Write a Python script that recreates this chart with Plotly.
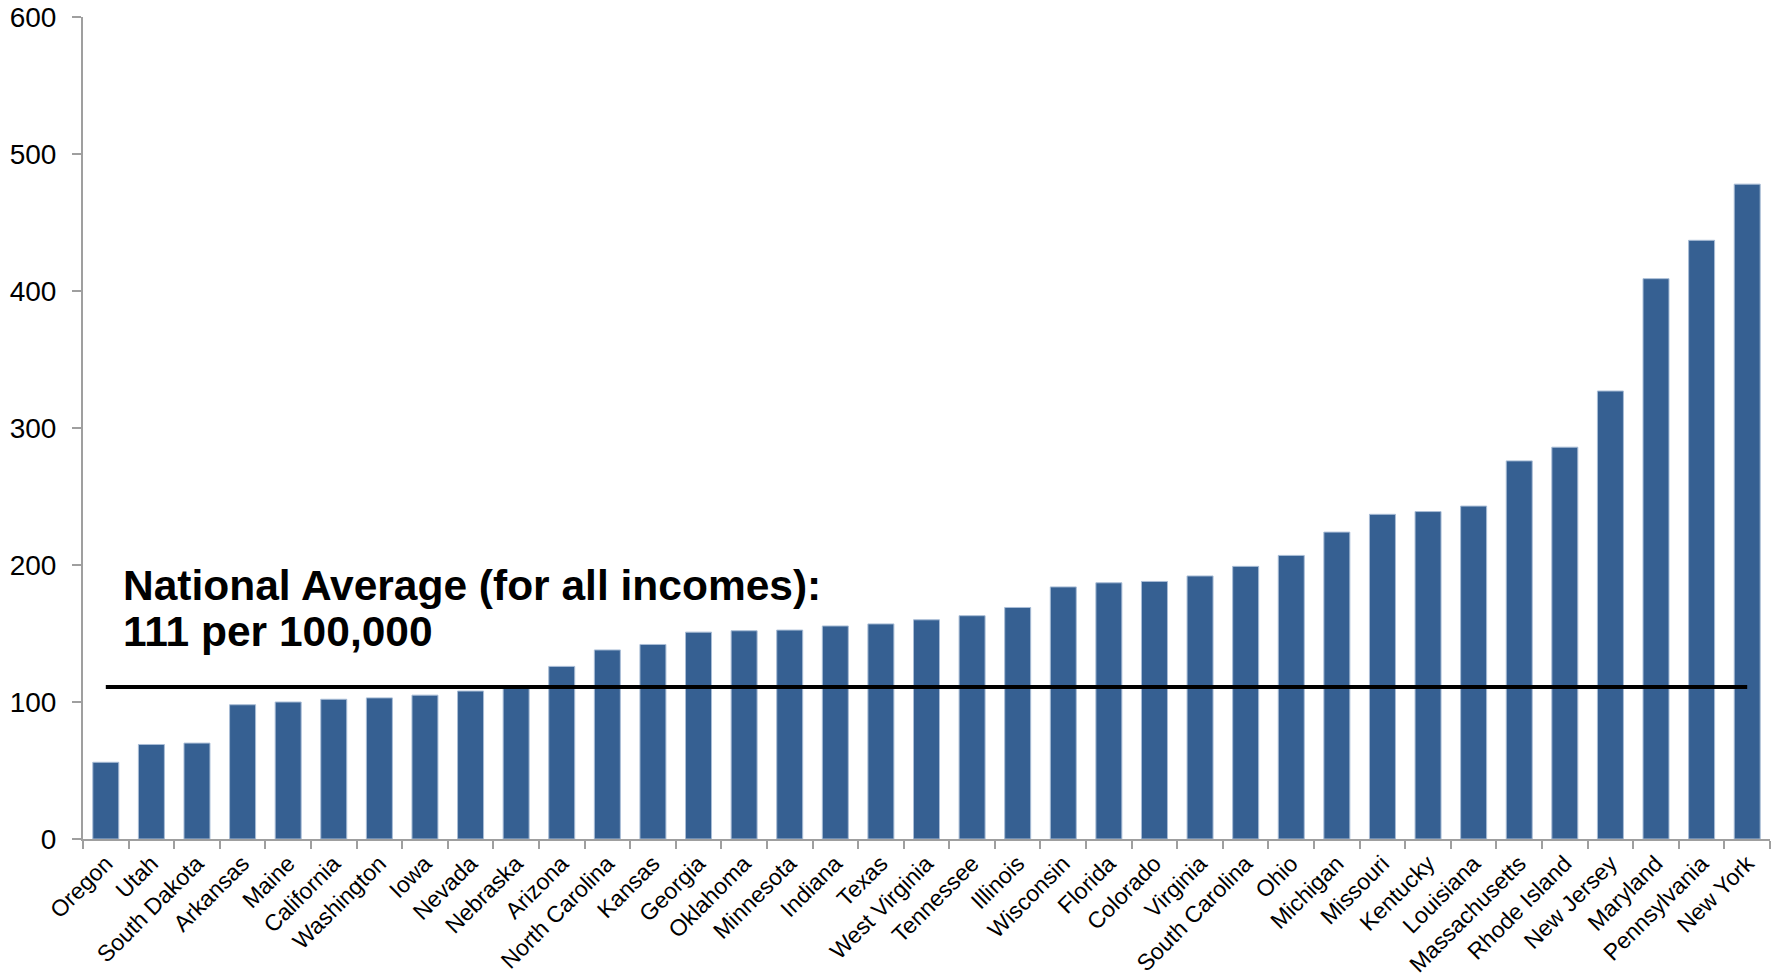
import plotly.graph_objects as go

states = ["Oregon", "Utah", "South Dakota", "Arkansas", "Maine", "California", "Washington",
          "Iowa", "Nevada", "Nebraska", "Arizona", "North Carolina", "Kansas", "Georgia",
          "Oklahoma", "Minnesota", "Indiana", "Texas", "West Virginia", "Tennessee", "Illinois",
          "Wisconsin", "Florida", "Colorado", "Virginia", "South Carolina", "Ohio", "Michigan",
          "Missouri", "Kentucky", "Louisiana", "Massachusetts", "Rhode Island", "New Jersey",
          "Maryland", "Pennsylvania", "New York"]
rates = [56, 69, 70, 98, 100, 102, 103, 105, 108, 111, 126, 138, 142, 151, 152, 152.5,
         155.5, 157, 160, 163, 169, 184, 187, 188, 192, 199, 207, 224, 237, 239, 243,
         276, 286, 327, 409, 437, 478]
national_average = 111
y_ticks = [0, 100, 200, 300, 400, 500, 600]
note_line1 = "National Average (for all incomes):"
note_line2 = "111 per 100,000"

FONT = "Liberation Sans, Arial, sans-serif"
AXIS_GRAY = "#9f9f9f"

fig = go.Figure()
fig.add_trace(go.Bar(
    x=states, y=rates,
    marker=dict(color="#366092", line=dict(color="#a9bdd6", width=1)),
    hoverinfo="x+y",
))
fig.add_trace(go.Scatter(
    x=[states[0], states[-1]], y=[national_average, national_average],
    mode="lines", line=dict(color="black", width=4), hoverinfo="skip",
))

fig.add_annotation(text=f"<b>{note_line1}</b>", xref="paper", yref="y",
                   x=0.0225, y=166.5, xanchor="left", yanchor="bottom", showarrow=False,
                   font=dict(family=FONT, size=42.5, color="black"))
fig.add_annotation(text=f"<b>{note_line2}</b>", xref="paper", yref="y",
                   x=0.0225, y=133, xanchor="left", yanchor="bottom", showarrow=False,
                   font=dict(family=FONT, size=42.5, color="black"))

fig.update_layout(
    width=1781, height=980,
    margin=dict(l=83, r=11, t=17, b=141),
    plot_bgcolor="white", paper_bgcolor="white",
    showlegend=False, bargap=0.43,
    font=dict(family=FONT, color="black"),
)
fig.update_xaxes(
    automargin=False,
    showline=True, linecolor=AXIS_GRAY, linewidth=2,
    ticks="outside", tickson="boundaries", ticklen=8, tickcolor=AXIS_GRAY, tickwidth=2,
    tickangle=-45, tickfont=dict(family=FONT, size=23, color="black"),
    showgrid=False, zeroline=False,
)
fig.update_yaxes(
    automargin=False,
    range=[0, 600], tickvals=y_ticks,
    showline=True, linecolor=AXIS_GRAY, linewidth=2,
    ticks="outside", ticklen=9, tickcolor=AXIS_GRAY, tickwidth=2,
    tickfont=dict(family=FONT, size=28, color="black"), ticklabelstandoff=10,
    showgrid=False, zeroline=False,
)

fig.write_html("out.html")
